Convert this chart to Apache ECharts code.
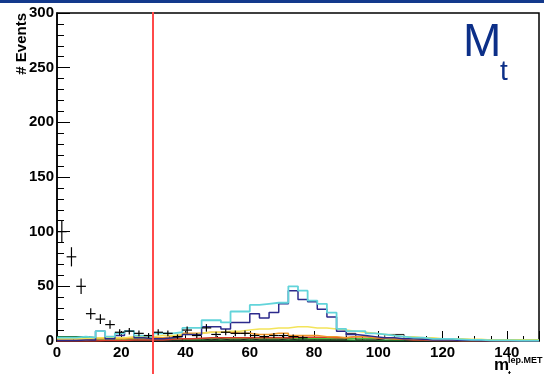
<!DOCTYPE html>
<html>
<head>
<meta charset="utf-8">
<script src="https://cdn.jsdelivr.net/npm/echarts@6/dist/echarts.min.js"></script>
<style>
    html, body {margin: 0; padding: 0; background: #fff;}
    #chart {width: 544px; height: 374px;}
</style>
</head>
<body>
<div id="chart"></div>
<script>
// bin edges of the m_t(lep,MET) histograms (3 GeV bins)
var binEdges = [0, 3, 6, 9, 12, 15, 18, 21, 24, 27, 30, 33, 36, 39, 42, 45, 48, 51, 54, 57,
    60, 63, 66, 69, 72, 75, 78, 81, 84, 87, 90, 93, 96, 99, 102, 105, 108, 111, 114, 117,
    120, 123, 126, 129, 132, 135, 138, 141, 144, 147, 150];

var totalMC = [3, 3, 4, 3, 9, 4, 7, 9, 5, 4,
    7, 7, 8, 12, 12, 19, 19, 17, 27, 27,
    33, 34, 35, 35, 50, 46, 37, 34, 26, 11,
    9, 9, 7, 6, 5, 4, 3, 3, 2, 2,
    2, 1.5, 1, 1, 0.5, 0.5, 0.5, 0.3, 0.3, 0.3];
var ttbar = [0.5, 0.5, 1, 1, 9, 2, 5, 9, 3, 2,
    2, 3, 4, 6, 6, 13, 13, 11, 17, 17,
    25, 21, 26, 34, 46, 38, 36, 29, 22, 9,
    6, 5, 4, 3, 3, 2, 2, 1.5, 1, 1,
    1, 0.5, 0.5, 0.3, 0.3, 0.2, 0.2, 0, 0, 0];
var yellowBkg = [2, 2, 2, 3, 3, 3, 3, 4, 4, 4,
    5, 5, 6, 6, 7, 8, 8, 9, 9, 10,
    11, 11, 12, 12, 13, 13, 12, 12, 11, 10,
    9, 8, 7, 6, 5, 4, 4, 3, 3, 2,
    2, 2, 1.5, 1.5, 1, 1, 1, 1, 1, 1];
var orangeBkg = [1, 1, 1, 2, 2, 2, 2, 3, 3, 3,
    3, 4, 5, 7, 7, 8, 8, 8, 7, 7,
    6, 6, 7, 7, 5, 5, 5, 4, 4, 3,
    4, 4, 3, 3, 2, 2, 1.5, 1.5, 1, 1,
    1, 0.5, 0.5, 0.5, 0.5, 0.3, 0.3, 0.3, 0.3, 0.3];
var redBkg = [0, 0, 0, 0, 0.5, 0.5, 0.5, 1, 1, 1,
    1, 1.5, 2, 2, 2.5, 3, 3, 3, 3, 3,
    3, 3, 3, 3, 3.5, 3.5, 3.5, 3.5, 3, 3,
    4, 4, 3, 2.5, 2, 1.5, 1, 1, 0.5, 0.5,
    0.5, 0.3, 0.3, 0.3, 0.2, 0.2, 0.2, 0.2, 0.2, 0.2];
var greenBkg = [3, 3, 3, 3, 2, 2, 2, 2, 2, 2,
    2, 2, 2, 2, 2, 2, 2, 2, 2, 2,
    2, 2, 2, 2, 2, 2, 2, 2, 2, 2,
    2, 2, 2, 2, 1.5, 1.5, 1.5, 1.5, 1, 1,
    1, 1, 1, 1, 1, 1, 1, 1, 1, 1];
var darkGreenBkg = [4, 4, 4, 3, 1, 1, 1, 1, 1, 1,
    1, 1, 1, 1, 1, 1, 1, 1, 1, 1,
    1, 1, 1, 1, 1, 1, 1, 1, 1, 1,
    0.5, 0.5, 0.5, 0.5, 0.5, 0.5, 0.5, 0.5, 0.5, 0.5,
    0.5, 0.5, 0.5, 0.5, 0.5, 0.5, 0.5, 0.5, 0.5, 0.5];
var blackBkg = [0, 0, 0, 0, 0, 0, 0, 0, 0, 0,
    0, 0, 0, 2, 2, 1, 2, 1, 1, 2,
    1, 1, 1, 2, 1, 1, 1, 1, 1, 1,
    7, 1, 1, 2, 6, 6, 1, 2, 1, 1,
    0, 0, 0, 0, 0, 0, 0, 0, 0, 0];

// data (events per bin, 0 = empty)
var dataCounts = [100, 77, 50, 25, 20, 15, 8, 9, 7, 5,
    8, 7, 4, 10, 5, 12, 6, 8, 7, 7,
    5, 4, 5, 5, 4, 3, 0, 0, 0, 0,
    0, 0, 0, 0, 0, 0, 0, 0, 0, 0,
    0, 0, 0, 0, 0, 0, 0, 0, 0, 0];

var cutValue = 30;
var xTicks = [0, 20, 40, 60, 80, 100, 120, 140];
var yTicks = [0, 50, 100, 150, 200, 250, 300];

var labelFont = 'Liberation Sans';

function histLine(name, values, color, width, z) {
    var pts = [];
    for (var i = 0; i < values.length; i++) {
        pts.push([binEdges[i], values[i]]);
    }
    pts.push([binEdges[values.length], values[values.length - 1]]);
    return {
        name: name,
        type: 'line',
        step: 'end',
        data: pts,
        symbol: 'none',
        silent: true,
        z: z,
        lineStyle: {color: color, width: width}
    };
}

var dataPts = [];
for (var i = 0; i < dataCounts.length; i++) {
    if (dataCounts[i] > 0) dataPts.push([binEdges[i], binEdges[i + 1], dataCounts[i]]);
}

var myChart = echarts.init(document.getElementById('chart'));

var option = {
    animation: false,
    backgroundColor: '#fff',
    grid: {
        left: 57, right: 5, top: 13, bottom: 33,
        show: true, borderColor: '#000', borderWidth: 1.5
    },
    xAxis: {
        type: 'value',
        min: 0, max: 150, interval: 20,
        axisLine: {show: true, lineStyle: {color: '#000', width: 1.5}},
        axisTick: {show: true, inside: true, length: 10, lineStyle: {color: '#000'}},
        minorTick: {show: true, splitNumber: 4, length: 5, lineStyle: {color: '#000'}},
        splitLine: {show: false},
        axisLabel: {
            showMaxLabel: false, margin: 4,
            color: '#000', fontFamily: labelFont, fontWeight: 'bold', fontSize: 15,
            formatter: function (v) { return xTicks.indexOf(v) >= 0 ? String(v) : ''; }
        }
    },
    yAxis: {
        type: 'value',
        min: 0, max: 300, interval: 50,
        axisLine: {show: true, lineStyle: {color: '#000', width: 1.5}},
        axisTick: {show: true, inside: true, length: 13, lineStyle: {color: '#000'}},
        minorTick: {show: true, splitNumber: 5, length: 7, lineStyle: {color: '#000'}},
        splitLine: {show: false},
        axisLabel: {
            margin: 3,
            color: '#000', fontFamily: labelFont, fontWeight: 'bold', fontSize: 15,
            formatter: function (v) { return yTicks.indexOf(v) >= 0 ? String(v) : ''; }
        }
    },
    series: [
        histLine('darkgreen', darkGreenBkg, '#1c6b2c', 1.5, 2),
        histLine('green', greenBkg, '#4cc23c', 1.5, 2),
        histLine('black', blackBkg, '#222', 1, 3),
        histLine('red', redBkg, '#d83a2a', 1.5, 3),
        histLine('orange', orangeBkg, '#f0962a', 1.5, 3),
        histLine('yellow', yellowBkg, '#f3e45a', 1.5, 3),
        histLine('ttbar', ttbar, '#2c2a8c', 1.5, 4),
        histLine('total', totalMC, '#62d4da', 1.8, 4),
        {
            name: 'data',
            type: 'custom',
            z: 6,
            silent: true,
            data: dataPts,
            renderItem: function (params, api) {
                var lo = api.value(0), hi = api.value(1), n = api.value(2);
                var err = Math.sqrt(n);
                var mid = (lo + hi) / 2;
                var pL = api.coord([lo, n]);
                var pR = api.coord([hi, n]);
                var pT = api.coord([mid, n + err]);
                var pB = api.coord([mid, n - err]);
                var st = {stroke: '#000', lineWidth: 1.2};
                return {
                    type: 'group',
                    children: [
                        {type: 'line', shape: {x1: pL[0], y1: pL[1], x2: pR[0], y2: pR[1]}, style: st},
                        {type: 'line', shape: {x1: pT[0], y1: pT[1], x2: pB[0], y2: pB[1]}, style: st}
                    ]
                };
            }
        }
    ]
};

myChart.setOption(option);

// cut line and texts
var cutX = Math.round(myChart.convertToPixel({xAxisIndex: 0}, cutValue));
myChart.setOption({
    graphic: [
        {type: 'rect', shape: {x: 0, y: 0, width: 544, height: 3}, style: {fill: '#13398c'}, z: 100},
        {type: 'rect', shape: {x: cutX - 1, y: 12, width: 2, height: 362},
            style: {fill: '#ff4a4a', stroke: null}, z: 100},
        {type: 'text', x: 22, y: 13, rotation: Math.PI / 2,
            style: {text: '# Events', fill: '#000', font: 'bold 15px "Liberation Sans"',
                align: 'right', verticalAlign: 'middle'}, z: 100},
        {type: 'text', x: 463, y: 66,
            style: {text: 'M', fill: '#0c2f88', font: '46px "Liberation Sans"',
                align: 'left', verticalAlign: 'bottom'}, z: 100},
        {type: 'text', x: 500, y: 86,
            style: {text: 't', fill: '#0c2f88', font: '28px "Liberation Sans"',
                align: 'left', verticalAlign: 'bottom'}, z: 100},
        {type: 'text', x: 494, y: 374,
            style: {text: 'm', fill: '#000', font: 'bold 17px "Liberation Sans"',
                align: 'left', verticalAlign: 'bottom'}, z: 100},
        {type: 'text', x: 508, y: 365,
            style: {text: 'lep.MET', fill: '#000', font: 'bold 9px "Liberation Sans"',
                align: 'left', verticalAlign: 'bottom'}, z: 100},
        {type: 'text', x: 508, y: 379,
            style: {text: 't', fill: '#000', font: 'bold 9px "Liberation Sans"',
                align: 'left', verticalAlign: 'bottom'}, z: 100}
    ]
});
</script>
</body>
</html>
